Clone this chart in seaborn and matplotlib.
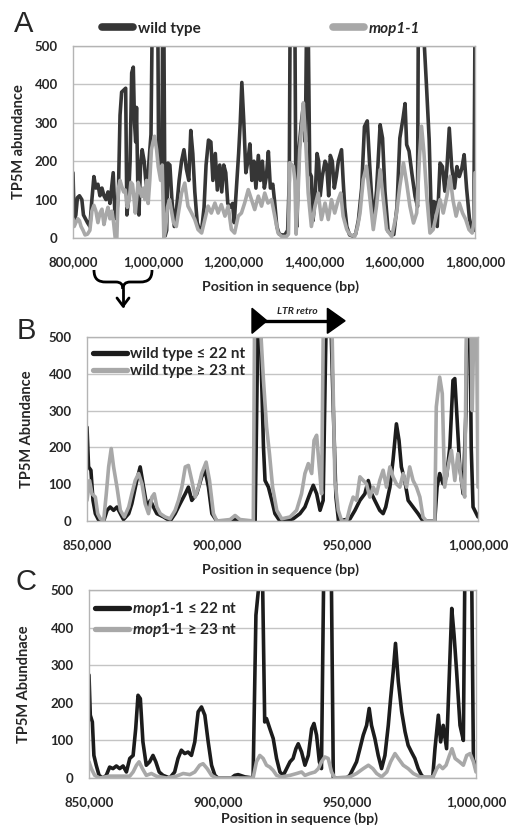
import numpy as np
import pandas as pd
import matplotlib
matplotlib.use("Agg")
import matplotlib.pyplot as plt
import matplotlib.transforms as mtransforms
from matplotlib.lines import Line2D
from matplotlib.path import Path
from matplotlib.patches import PathPatch, Polygon
import seaborn as sns

# ---- data: (position in kb, TP5M abundance) ----
# panel A, 800 kb - 1.8 Mb
wt_a = np.array([
    (800, 170), (803, 45), (807, 60), (811, 105), (816, 110), (822, 100), (826, 60), (831, 50),
    (836, 40), (842, 30), (847, 100), (852, 160), (857, 130), (862, 140), (867, 110), (872, 130),
    (877, 110), (882, 100), (887, 120), (892, 90), (896, 130), (900, 170), (904, 70), (908, 50),
    (913, 120), (917, 320), (921, 380), (926, 385), (931, 390), (934, 60), (938, 100), (942, 200),
    (946, 430), (950, 445), (953, 300), (956, 250), (958, 340), (961, 150), (964, 60), (968, 190),
    (972, 230), (977, 200), (981, 150), (985, 120), (989, 200), (994, 270), (997, 560), (1003, 560),
    (1008, 560), (1011, 560), (1013, 200), (1017, 190), (1021, 180), (1023, 560), (1026, 560),
    (1029, 5), (1033, 20), (1036, 195), (1041, 190), (1046, 100), (1052, 30), (1058, 80),
    (1064, 150), (1070, 200), (1076, 230), (1082, 180), (1088, 150), (1093, 280), (1098, 220),
    (1103, 120), (1109, 40), (1115, 20), (1121, 30), (1126, 80), (1131, 190), (1137, 255),
    (1143, 250), (1148, 150), (1154, 220), (1159, 125), (1165, 190), (1170, 120), (1175, 190),
    (1180, 170), (1185, 90), (1191, 80), (1197, 90), (1201, 40), (1206, 120), (1212, 220),
    (1216, 300), (1220, 405), (1225, 300), (1230, 170), (1235, 200), (1240, 245), (1245, 150),
    (1250, 200), (1255, 130), (1261, 215), (1266, 150), (1271, 200), (1276, 130), (1281, 160),
    (1286, 225), (1291, 130), (1297, 140), (1302, 90), (1307, 30), (1313, 10), (1320, 8),
    (1327, 8), (1334, 20), (1338, 150), (1340, 560), (1346, 560), (1352, 560), (1354, 186),
    (1357, 30), (1362, 230), (1368, 300), (1373, 345), (1378, 250), (1381, 560), (1385, 560),
    (1389, 170), (1393, 160), (1397, 45), (1402, 100), (1407, 220), (1411, 200), (1415, 110),
    (1420, 160), (1427, 200), (1431, 190), (1436, 110), (1440, 215), (1445, 200), (1450, 130),
    (1455, 160), (1460, 200), (1464, 215), (1468, 230), (1472, 150), (1476, 80), (1481, 30),
    (1488, 8), (1496, 5), (1503, 10), (1510, 47), (1518, 130), (1525, 290), (1532, 305),
    (1538, 190), (1547, 38), (1555, 122), (1564, 295), (1570, 260), (1576, 122), (1584, 17),
    (1592, 13), (1598, 9), (1606, 82), (1613, 260), (1621, 312), (1626, 350), (1630, 243),
    (1636, 226), (1643, 168), (1651, 108), (1657, 82), (1659, 560), (1665, 560), (1671, 560),
    (1679, 403), (1686, 256), (1692, 30), (1697, 95), (1702, 91), (1706, 30), (1713, 195),
    (1719, 186), (1725, 122), (1730, 180), (1736, 286), (1742, 186), (1749, 130), (1755, 186),
    (1761, 160), (1767, 180), (1773, 217), (1779, 130), (1786, 52), (1793, 17), (1797, 20),
    (1800, 560)])

mop_a = np.array([
    (800, 50), (803, 30), (807, 40), (812, 50), (816, 45), (820, 30), (825, 20), (830, 8),
    (836, 10), (842, 20), (847, 70), (852, 85), (857, 70), (862, 40), (867, 65), (872, 75),
    (877, 35), (882, 60), (887, 80), (892, 50), (897, 70), (901, 40), (905, 0), (909, 0),
    (913, 130), (917, 150), (921, 135), (926, 120), (930, 125), (935, 80), (940, 100), (944, 145),
    (948, 140), (952, 100), (955, 65), (959, 110), (962, 145), (967, 120), (971, 108), (975, 130),
    (979, 100), (983, 150), (987, 90), (991, 150), (995, 230), (999, 250), (1003, 265),
    (1008, 230), (1012, 186), (1018, 150), (1022, 190), (1026, 0), (1030, 20), (1035, 80),
    (1040, 100), (1045, 70), (1050, 40), (1057, 30), (1063, 70), (1070, 117), (1078, 143),
    (1086, 83), (1095, 65), (1103, 48), (1111, 22), (1120, 13), (1128, 48), (1136, 83),
    (1144, 65), (1153, 91), (1161, 65), (1169, 87), (1178, 57), (1186, 83), (1194, 22),
    (1202, 13), (1211, 57), (1219, 65), (1227, 91), (1236, 126), (1244, 100), (1252, 74),
    (1261, 109), (1269, 83), (1277, 117), (1285, 91), (1294, 100), (1302, 57), (1310, 13),
    (1319, 4), (1331, 4), (1336, 10), (1339, 196), (1348, 187), (1352, 150), (1355, 10),
    (1360, 120), (1364, 230), (1369, 290), (1373, 352), (1379, 248), (1385, 117), (1393, 30),
    (1402, 83), (1410, 117), (1418, 48), (1427, 91), (1435, 48), (1443, 100), (1451, 65),
    (1460, 100), (1466, 117), (1472, 57), (1481, 22), (1489, 9), (1501, 4), (1508, 30),
    (1514, 65), (1522, 152), (1530, 187), (1539, 100), (1547, 22), (1555, 83), (1564, 178),
    (1572, 100), (1580, 22), (1593, 4), (1605, 65), (1613, 135), (1622, 196), (1630, 143),
    (1638, 83), (1647, 39), (1655, 65), (1662, 213), (1667, 291), (1673, 222), (1680, 109),
    (1688, 13), (1696, 22), (1705, 65), (1713, 100), (1721, 65), (1730, 109), (1738, 161),
    (1745, 100), (1753, 57), (1761, 91), (1769, 65), (1777, 48), (1785, 22), (1793, 13),
    (1797, 40), (1800, 170)])

# panel B, wild type 850 kb - 1 Mb
wt_short = np.array([
    (850.0, 255), (850.6, 147), (851.5, 138), (852.3, 56), (853.2, 20), (854.5, 2), (856.4, 0),
    (857.7, 29), (858.9, 38), (860.2, 29), (861.5, 38), (862.8, 20), (864.0, 4), (866.0, 20),
    (867.2, 47), (869.1, 110), (870.4, 147), (871.7, 92), (873.0, 38), (874.3, 56), (875.5, 38),
    (876.8, 20), (879.4, 11), (881.9, 0), (883.8, 20), (885.7, 47), (887.7, 74), (888.9, 92),
    (890.2, 56), (892.1, 74), (894.0, 120), (895.3, 138), (896.6, 92), (897.9, 20), (899.8, 0),
    (906.2, 0), (906.8, 9), (907.4, 0), (914.5, 0), (915.1, 300), (915.6, 560), (916.5, 560),
    (917.0, 382), (917.7, 201), (918.3, 110), (919.6, 92), (920.9, 56), (922.1, 20), (924.0, 0),
    (926.6, 2), (929.1, 6), (931.7, 20), (933.6, 38), (935.5, 74), (936.8, 97), (938.1, 74),
    (939.4, 29), (940.6, 56), (941.4, 400), (941.8, 560), (943.5, 560), (944.5, 300), (945.5, 65),
    (946.5, 0), (950.9, 6), (952.8, 29), (954.7, 56), (956.6, 74), (957.9, 110), (959.2, 74),
    (960.4, 56), (962.3, 29), (963.6, 20), (964.6, 38), (966.2, 92), (967.4, 165), (968.7, 264),
    (969.7, 219), (970.6, 147), (971.9, 110), (973.2, 56), (975.1, 38), (977.0, 20), (978.9, 0),
    (983.4, 0), (984.3, 92), (985.3, 129), (986.6, 101), (987.9, 120), (989.2, 201), (990.4, 382),
    (991.1, 387), (992.0, 274), (993.0, 147), (994.3, 74), (995.4, 300), (995.8, 560),
    (996.9, 560), (997.4, 200), (998.1, 38), (1000.0, 11)])

wt_long = np.array([
    (850.0, 56), (851.0, 110), (851.9, 74), (853.2, 65), (854.1, 20), (855.1, 6), (856.4, 2),
    (857.4, 74), (858.3, 147), (859.3, 197), (860.2, 147), (861.5, 92), (862.8, 29), (864.3, 11),
    (866.0, 38), (867.2, 74), (868.5, 110), (869.8, 129), (871.1, 101), (872.3, 47), (873.6, 20),
    (874.9, 65), (875.8, 74), (876.8, 38), (878.1, 20), (880.0, 11), (881.9, 6), (883.8, 29),
    (885.1, 56), (886.4, 92), (887.7, 147), (888.9, 151), (890.2, 110), (891.5, 65), (892.8, 92),
    (894.0, 129), (895.7, 160), (897.0, 110), (898.5, 20), (899.8, 0), (904.9, 4), (906.8, 15),
    (908.7, 4), (913.8, 0), (914.3, 560), (916.3, 560), (917.7, 382), (918.9, 255), (920.0, 183),
    (921.2, 92), (922.8, 29), (924.7, 6), (927.9, 11), (930.4, 29), (932.3, 74), (933.6, 129),
    (934.9, 156), (936.2, 129), (937.1, 219), (938.1, 233), (939.1, 147), (940.0, 74),
    (940.7, 560), (943.9, 560), (945.1, 110), (946.4, 29), (947.7, 0), (949.6, 0), (950.9, 38),
    (952.1, 65), (953.4, 56), (954.7, 120), (956.0, 110), (957.2, 101), (958.5, 65), (959.8, 92),
    (961.1, 74), (962.3, 110), (963.6, 138), (964.9, 92), (966.2, 147), (967.4, 120),
    (968.7, 101), (970.0, 92), (971.3, 129), (972.6, 92), (973.8, 147), (975.1, 110),
    (976.4, 92), (977.7, 65), (978.9, 11), (980.2, 0), (983.4, 0), (984.0, 310), (985.3, 391),
    (986.3, 346), (987.2, 92), (988.5, 147), (989.8, 192), (991.1, 110), (992.3, 183),
    (993.6, 110), (994.9, 65), (995.6, 560), (997.2, 560), (997.8, 300), (998.5, 560),
    (999.4, 560), (1000.0, 92)])

# panel C, mop1-1 850 kb - 1 Mb
mop_short = np.array([
    (850.0, 274), (850.5, 167), (851.3, 149), (851.9, 60), (852.8, 34), (853.9, 7), (855.4, 0),
    (856.7, 7), (858.0, 29), (859.3, 25), (860.6, 32), (861.9, 25), (863.2, 32), (864.5, 16),
    (865.8, 52), (867.1, 60), (868.1, 131), (869.0, 220), (869.9, 211), (870.9, 96), (872.2, 34),
    (873.5, 43), (874.8, 60), (875.9, 43), (877.2, 16), (878.7, 7), (881.3, 0), (883.2, 16),
    (884.5, 52), (885.8, 74), (887.1, 65), (888.4, 69), (889.7, 60), (891.0, 96), (892.3, 176),
    (893.6, 189), (894.9, 167), (896.2, 96), (897.5, 34), (898.8, 7), (900.0, 0), (905.2, 0),
    (906.5, 7), (907.8, 9), (910.4, 3), (913.6, 0), (914.7, 433), (915.6, 496), (916.2, 560),
    (917.2, 560), (918.1, 149), (918.8, 158), (920.1, 131), (921.4, 105), (922.7, 52),
    (924.0, 16), (925.3, 7), (926.6, 25), (927.9, 43), (929.1, 52), (930.2, 78), (931.1, 91),
    (932.4, 69), (933.7, 34), (935.0, 60), (936.3, 131), (937.2, 145), (938.2, 114), (939.3, 43),
    (940.1, 25), (941.0, 560), (943.9, 560), (944.7, 0), (949.8, 0), (951.1, 7), (952.4, 25),
    (953.7, 43), (955.0, 78), (956.3, 114), (957.6, 140), (958.6, 185), (959.5, 140),
    (960.8, 105), (962.1, 60), (963.4, 25), (964.7, 60), (966.0, 140), (966.9, 211),
    (967.9, 282), (968.8, 358), (969.9, 256), (971.2, 176), (972.5, 123), (973.7, 87),
    (975.0, 69), (976.3, 52), (977.6, 25), (978.9, 7), (980.2, 0), (983.2, 0), (984.1, 78),
    (985.4, 167), (986.3, 96), (987.3, 140), (988.6, 78), (989.7, 282), (990.6, 451),
    (991.5, 380), (992.5, 282), (993.8, 140), (995.1, 100), (995.7, 560), (998.3, 560),
    (999.0, 50), (1000.0, 25)])

mop_long = np.array([
    (850.0, 43), (850.9, 25), (852.2, 7), (854.1, 0), (858.0, 5), (862.0, 5), (865.8, 5),
    (867.1, 16), (868.4, 34), (869.4, 43), (870.7, 25), (872.2, 7), (874.2, 12), (876.1, 5),
    (880.0, 0), (883.9, 5), (886.5, 12), (889.1, 9), (891.0, 16), (892.9, 34), (894.2, 38),
    (895.8, 25), (897.5, 7), (899.4, 0), (913.6, 0), (914.9, 43), (916.2, 60), (917.5, 52),
    (918.8, 34), (920.1, 29), (921.4, 20), (922.7, 7), (924.6, 3), (927.9, 7), (930.5, 12),
    (932.4, 16), (933.7, 7), (935.6, 12), (937.6, 16), (938.9, 25), (940.1, 43), (941.4, 56),
    (942.7, 52), (944.0, 16), (945.3, 0), (951.1, 3), (953.7, 12), (956.3, 25), (958.3, 34),
    (960.0, 25), (961.5, 12), (963.4, 3), (965.4, 16), (966.9, 43), (968.6, 65), (969.9, 52),
    (971.8, 34), (973.7, 25), (975.7, 12), (978.3, 3), (983.4, 3), (984.8, 25), (985.8, 34),
    (987.1, 25), (988.4, 34), (989.7, 60), (990.7, 78), (991.9, 52), (993.6, 43), (995.1, 34),
    (996.4, 60), (997.7, 65), (999.0, 43), (1000.0, 16)])

ticks_a = [800, 1000, 1200, 1400, 1600, 1800]
ticks_bc = [850, 900, 950, 1000]
yticks = [0, 100, 200, 300, 400, 500]
ltr_start, ltr_end = 913.3, 949.0

DARK_A = "#363636"
DARK = "#1c1c1c"
GREY = "#a8a8a8"
FONT = ["Lato", "DejaVu Sans"]
LW = 2.6

sns.set_style("white")
plt.rcParams["font.family"] = FONT
plt.rcParams["font.weight"] = "bold"
plt.rcParams["mathtext.fontset"] = "custom"
plt.rcParams["mathtext.it"] = "Lato:italic:bold"
plt.rcParams["mathtext.rm"] = "Lato:bold"
plt.rcParams["mathtext.bf"] = "Lato:bold"

W, H = 508, 827
fig = plt.figure(figsize=(W / 100, H / 100), dpi=100)


def axes_px(left, top, right, bottom):
    return fig.add_axes([left / W, 1 - bottom / H, (right - left) / W, (bottom - top) / H])


ax_a = axes_px(73, 46, 475, 238)
ax_b = axes_px(87, 337, 478, 521)
ax_c = axes_px(89, 590, 476, 778)


def draw(ax, arr, color, lw=LW):
    df = pd.DataFrame(arr, columns=["pos", "val"])
    sns.lineplot(data=df, x="pos", y="val", ax=ax, color=color, lw=lw,
                 estimator=None, sort=False, legend=False)


def style(ax, ticks, ylab, ylab_x, xlab_xy):
    ax.set_xlim(ticks[0], ticks[-1])
    ax.set_ylim(0, 500)
    ax.set_yticks(yticks)
    ax.set_xticks(ticks)
    ax.set_xticklabels([f"{t * 1000:,}" for t in ticks])
    ax.yaxis.grid(True, color="#c4c4c4", lw=1)
    ax.set_axisbelow(True)
    for s in ax.spines.values():
        s.set_color("#b4b4b4")
        s.set_linewidth(1)
    ax.tick_params(axis="x", length=4, color="#a0a0a0", pad=9, labelsize=9.5)
    ax.tick_params(axis="y", length=0, pad=11, labelsize=9.5)
    ax.set_ylabel(ylab, fontsize=10.5, fontweight="bold")
    ax.yaxis.set_label_coords(ylab_x, 0.5)
    ax.set_xlabel("Position in sequence (bp)", fontsize=10.2, fontweight="bold")
    ax.xaxis.set_label_coords(*xlab_xy)


# panel A
draw(ax_a, wt_a, DARK_A)
draw(ax_a, mop_a, GREY)
style(ax_a, ticks_a, "TP5M abundance", -0.117, (0.517, -0.222))
leg = ax_a.legend([Line2D([], [], color=DARK_A, lw=5.5), Line2D([], [], color=GREY, lw=5.5)],
                  ["wild type", "mop1-1"], ncol=2, loc="center", bbox_to_anchor=(0.468, 1.09),
                  frameon=False, fontsize=11, handlelength=2.0, handletextpad=0.3,
                  columnspacing=8.7)
leg.get_texts()[1].set_style("italic")

# panel B
draw(ax_b, wt_short, DARK)
draw(ax_b, wt_long, GREY)
style(ax_b, ticks_bc, "TP5M Abundance", -0.136, (0.496, -0.228))
ax_b.legend([Line2D([], [], color=DARK, lw=3.8), Line2D([], [], color=GREY, lw=3.8)],
            ["wild type \u2264 22 nt", "wild type \u2265 23 nt"], loc="upper left",
            bbox_to_anchor=(-0.01, 1.0), frameon=False, fontsize=11, handlelength=2.2,
            handletextpad=0.2, labelspacing=0.2, borderaxespad=0.25)

# panel C
draw(ax_c, mop_short, DARK)
draw(ax_c, mop_long, GREY)
style(ax_c, ticks_bc, "TP5M Abundnace", -0.150, (0.545, -0.185))
ax_c.legend([Line2D([], [], color=DARK, lw=3.8), Line2D([], [], color=GREY, lw=3.8)],
            [r"$\mathit{mop1}$-$\mathit{1}$ " + "\u2264 22 nt",
             r"$\mathit{mop1}$-$\mathit{1}$ " + "\u2265 23 nt"],
            loc="upper left", bbox_to_anchor=(-0.01, 1.0), frameon=False, fontsize=11,
            handlelength=2.2, handletextpad=0.2, labelspacing=0.2, borderaxespad=0.25)

# LTR retrotransposon marker above panel B
tr = mtransforms.blended_transform_factory(ax_b.transData, ax_b.transAxes)
tri_l = (ltr_end - ltr_start) * 0.16
tri_r = (ltr_end - ltr_start) * 0.19
ax_b.add_patch(Polygon([(ltr_start, 1.156), (ltr_start, 1.02), (ltr_start + tri_l, 1.088)],
                       closed=True, color="black", transform=tr, clip_on=False))
ax_b.add_patch(Polygon([(ltr_end - tri_r, 1.156), (ltr_end - tri_r, 1.02), (ltr_end, 1.088)],
                       closed=True, color="black", transform=tr, clip_on=False))
ax_b.plot([ltr_start + tri_l * 0.5, ltr_end - tri_r], [1.088, 1.088], color="black", lw=2.4,
          transform=tr, clip_on=False)
ax_b.text((ltr_start + ltr_end) / 2 - 0.5, 1.14, "LTR retro", transform=tr, ha="center",
          va="center", fontsize=7.5, fontweight="bold", style="italic")


# brace + arrow from panel A to panel B
def fpx(x, y):
    return (x / W, 1 - y / H)


verts = [fpx(94, 270), fpx(94, 279), fpx(98, 282), fpx(106, 282),
         fpx(116, 282), fpx(123, 282), fpx(123, 289),
         fpx(123, 282), fpx(130, 282), fpx(140, 282),
         fpx(148, 282), fpx(152, 279), fpx(152, 270)]
codes = [Path.MOVETO, Path.CURVE4, Path.CURVE4, Path.CURVE4,
         Path.LINETO, Path.CURVE3, Path.CURVE3,
         Path.CURVE3, Path.CURVE3, Path.LINETO,
         Path.CURVE4, Path.CURVE4, Path.CURVE4]
fig.add_artist(PathPatch(Path(verts, codes), fill=False, lw=2, color="black",
                         transform=fig.transFigure))
fig.add_artist(Line2D(*zip(fpx(123, 289), fpx(123, 306)), color="black", lw=2,
                      transform=fig.transFigure))
fig.add_artist(Line2D(*zip(fpx(117, 298), fpx(123, 306), fpx(129, 298)), color="black",
                      lw=2, transform=fig.transFigure))

# panel letters
for letter, (x, y) in zip("ABC", [(24, 24), (26, 331), (26, 582)]):
    fig.text(*fpx(x, y), letter, ha="center", va="center", fontsize=21,
             family="Liberation Sans", fontweight="normal")

fig.savefig("out.png", dpi=100)
